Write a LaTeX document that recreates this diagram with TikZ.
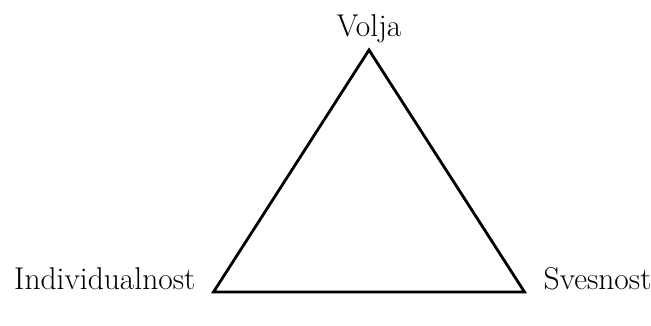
\documentclass[tikz,border=0pt]{standalone}
\usepackage{tikz}
\usetikzlibrary{calc}

\begin{document}
\begin{tikzpicture}[x=1pt, y=-1pt]

% Triangle
\newcommand{\apexx}{369}
\newcommand{\apexy}{50}
\newcommand{\basey}{292}
\newcommand{\halfw}{155.5}
% Labels
\newcommand{\labfont}{\fontsize{31.5}{38}\selectfont}

\tikzset{corner label/.style={inner sep=0pt, font=\labfont}}

\useasboundingbox (0, 0) rectangle (651, 325);

% Top/Left/Right
\coordinate (T) at (\apexx, \apexy);
\coordinate (L) at ($ (\apexx, \basey) - (\halfw, 0) $);
\coordinate (R) at ($ (\apexx, \basey) + (\halfw, 0) $);

% Outer triangle
\draw [line width=2.8pt, line join=miter] (L) -- (R) -- (T) -- cycle;

\node [corner label, anchor=base] (volja) at (\apexx, 36) {Volja};
\node [corner label, anchor=base east] (individualnost) at ($ (L) + (-18, -3) $) {Individualnost};
\node [corner label, anchor=base west] (svesnost) at ($ (R) + (19, -3) $) {Svesnost};

\end{tikzpicture}
\end{document}
